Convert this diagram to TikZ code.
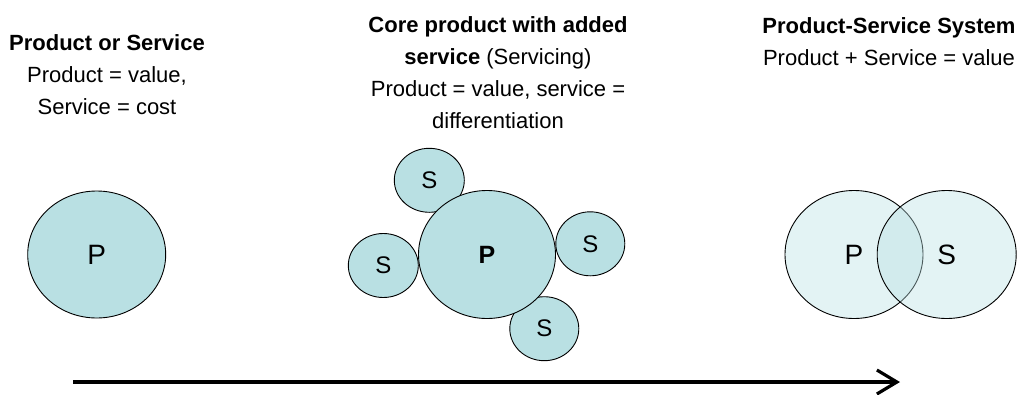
\documentclass[tikz,border=0pt]{standalone}
\usepackage{fontspec}
\setmainfont{Liberation Sans}
\usetikzlibrary{shapes.geometric,arrows.meta}
\definecolor{blob}{HTML}{B9E0E3}
\tikzset{
  bubble/.style={ellipse, draw=black, line width=0.9pt, fill=blob, inner sep=0pt,
     font=\fontsize{24}{28}\selectfont},
  bigbubble/.style={bubble, font=\fontsize{28}{32}\selectfont},
  corebubble/.style={bubble, font=\fontsize{25}{28}\selectfont\bfseries},
  venn/.style={ellipse, draw=black, line width=0.9pt, fill=blob, fill opacity=0.4, text opacity=1, inner sep=0pt},
  vennlabel/.style={inner sep=0pt, font=\fontsize{28}{32}\selectfont},
  caption/.style={align=center, inner sep=0pt, font=\fontsize{22}{32}\selectfont},
}
\begin{document}
\begin{tikzpicture}[x=1pt,y=-1pt]
\useasboundingbox (0,0) rectangle (1026,394);
% captions
\node[caption] (t1) at (107,75) {\textbf{Product or Service}\\Product = value,\\Service = cost};
\node[caption] (t2) at (498,73) {\textbf{Core product with added}\\\textbf{service} (Servicing)\\Product = value, service =\\differentiation};
\node[caption] (t3) at (889,42) {\textbf{Product-Service System}\\Product + Service = value};
% left
\node[bigbubble, minimum width=138pt, minimum height=127pt] (p1) at (96.7,254.5) {P};
% centre
\node[bubble, minimum width=70pt, minimum height=64pt] (s1) at (429.3,180.3) {S};
\node[bubble, minimum width=70pt, minimum height=64pt] (s2) at (383.3,265.5) {S};
\node[bubble, minimum width=69pt, minimum height=64pt] (s3) at (590.3,243.8) {S};
\node[bubble, minimum width=69pt, minimum height=64pt] (s4) at (544.3,328.7) {S};
\node[corebubble, minimum width=137pt, minimum height=128pt] (p2) at (487,254.5) {P};
% venn
\node[venn, minimum width=138pt, minimum height=128pt] (vp) at (854,254.5) {};
\node[venn, minimum width=139pt, minimum height=128pt] (vs) at (946.7,254.5) {};
\node[vennlabel] (lp) at (vp.center) {P};
\node[vennlabel] (ls) at (vs.center) {S};
% arrow
\coordinate (a0) at (73,382);
\coordinate (a1) at (900,382);
\draw[line width=3.6pt, -{Straight Barb[length=20pt,width=24pt,line width=3.2pt]}] (a0) -- (a1);
\end{tikzpicture}
\end{document}
